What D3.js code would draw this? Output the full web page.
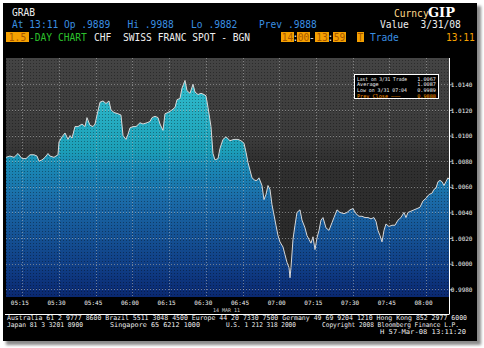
<!DOCTYPE html>
<html><head><meta charset="utf-8">
<script src="https://cdn.jsdelivr.net/npm/d3@7"></script>
<style>html,body{margin:0;padding:0;background:#fff;}svg{display:block}</style>
</head><body>
<script>
// ---- data ----
const times = ["05:08:20","05:09:58","05:11:37","05:13:15","05:14:04","05:14:53","05:16:31","05:18:09","05:19:47","05:21:00",
"05:21:50","05:23:03","05:24:17","05:25:30","05:26:19","05:27:57","05:29:35","05:30:00","05:31:14","05:32:27",
"05:33:41","05:34:30","05:35:19","05:36:32","05:37:46","05:39:24","05:40:38","05:41:26","05:42:40","05:43:54",
"05:44:43","05:45:32","05:46:45","05:47:59","05:49:13","05:50:26","05:51:15","05:52:29","05:54:07","05:55:20",
"05:56:10","05:57:23","05:58:12","05:59:01","06:00:14","06:01:28","06:03:06","06:04:20","06:05:58","06:07:11",
"06:08:01","06:09:14","06:10:28","06:11:17","06:12:30","06:13:19","06:14:33","06:16:11","06:17:25","06:18:14",
"06:19:27","06:20:16","06:21:30","06:22:19","06:23:32","06:24:46","06:25:35","06:26:49","06:28:02","06:29:16",
"06:30:05","06:30:54","06:32:07","06:32:56","06:33:45","06:34:59","06:35:48","06:37:02","06:38:15","06:39:53",
"06:41:31","06:43:09","06:44:23","06:45:37","06:46:26","06:47:14","06:48:04","06:48:53","06:50:06","06:50:55",
"06:51:44","06:52:58","06:53:47","06:54:36","06:55:25","06:56:14","06:57:03","06:57:52","06:58:41","06:59:30",
"07:00:19","07:01:33","07:02:22","07:03:11","07:04:00","07:04:25","07:04:49","07:05:38","07:06:27","07:07:16",
"07:08:30","07:09:19","07:10:32","07:11:21","07:12:10","07:12:59","07:13:49","07:14:38","07:15:26","07:16:16",
"07:17:05","07:17:54","07:19:07","07:20:21","07:21:34","07:22:23","07:23:37","07:24:50","07:26:29","07:27:43",
"07:28:56","07:30:10","07:31:23","07:32:37","07:33:50","07:35:04","07:36:17","07:37:31","07:38:44","07:39:34",
"07:40:22","07:41:11","07:42:01","07:42:50","07:43:38","07:44:52","07:46:06","07:47:19","07:48:33","07:49:46",
"07:51:00","07:51:49","07:52:38","07:53:52","07:55:05","07:56:19","07:57:32","07:58:46","08:00:00","08:01:13",
"08:02:26","08:03:16","08:04:05","08:04:54","08:05:43","08:06:32","08:07:21","08:08:10","08:08:59","08:09:23"];

const prices = [1.0083,1.0084,1.0083,1.0086,1.0084,1.0082,1.0082,1.0085,1.0085,1.0084,
1.0080,1.0081,1.0083,1.0086,1.0084,1.0083,1.0085,1.0095,1.0099,1.0102,
1.0097,1.0100,1.0098,1.0107,1.0107,1.0109,1.0107,1.0114,1.0108,1.0107,
1.0109,1.0116,1.0126,1.0127,1.0125,1.0127,1.0120,1.0118,1.0117,1.0116,
1.0100,1.0097,1.0101,1.0106,1.0107,1.0107,1.0110,1.0109,1.0110,1.0111,
1.0114,1.0115,1.0114,1.0109,1.0104,1.0117,1.0118,1.0120,1.0122,1.0128,
1.0129,1.0137,1.0143,1.0135,1.0133,1.0140,1.0134,1.0132,1.0133,1.0132,
1.0131,1.0122,1.0107,1.0086,1.0081,1.0082,1.0090,1.0097,1.0099,1.0096,
1.0097,1.0097,1.0096,1.0094,1.0087,1.0079,1.0073,1.0067,1.0065,1.0065,
1.0067,1.0061,1.0050,1.0054,1.0061,1.0058,1.0046,1.0038,1.0030,1.0022,
1.0017,1.0013,1.0007,1.0001,0.9997,0.9989,0.9997,1.0019,1.0030,1.0040,
1.0042,1.0034,1.0028,1.0022,1.0019,1.0016,1.0021,1.0011,1.0020,1.0026,
1.0034,1.0036,1.0028,1.0026,1.0032,1.0036,1.0042,1.0040,1.0039,1.0040,
1.0042,1.0043,1.0039,1.0037,1.0037,1.0036,1.0036,1.0035,1.0036,1.0033,
1.0026,1.0022,1.0017,1.0026,1.0031,1.0029,1.0030,1.0030,1.0034,1.0036,
1.0040,1.0036,1.0040,1.0041,1.0042,1.0043,1.0044,1.0049,1.0051,1.0054,
1.0055,1.0058,1.0059,1.0064,1.0065,1.0064,1.0061,1.0064,1.0067,1.0066];

const yTickValues = [0.9980,1.0000,1.0020,1.0040,1.0060,1.0080,1.0100,1.0120,1.0140];
const yTickLabels = ["0.9980","1.0000","1.0020","1.0040","1.0060","1.0080","1.0100","1.0120","1.0140"];
const xTickTimes  = ["05:15","05:30","05:45","06:00","06:15","06:30","06:45","07:00","07:15","07:30","07:45","08:00"];
const xDomain = ["05:08:20","08:09:24"];

const legendRows = [
  {label:"Last on 3/31 Trade", value:"1.0067", color:"#f0f0f0"},
  {label:"Average",            value:"1.0087", color:"#f0f0f0"},
  {label:"Low on 3/31 07:04",  value:"0.9989", color:"#f0f0f0"},
  {label:"Prev Close \u2014\u2014\u2014", value:"0.9888", color:"#ff9900"}
];

// ---- drawing ----
const W = 484, H = 348;
const svg = d3.select("body").append("svg").attr("width", W).attr("height", H);
const defs = svg.append("defs");

const blur = defs.append("filter").attr("id","sh").attr("x","-10%").attr("y","-10%").attr("width","120%").attr("height","120%");
blur.append("feGaussianBlur").attr("stdDeviation", 1.5);

// frame + shadow
svg.append("rect").attr("x",6).attr("y",6).attr("width",475).attr("height",339).attr("fill","#8a8a8a").attr("filter","url(#sh)");
svg.append("rect").attr("x",3).attr("y",3).attr("width",474).attr("height",338).attr("fill","#000");

const plot = {l:6, r:449, t:58, b:297};
const parse = d3.timeParse("%H:%M:%S");
const parseHM = d3.timeParse("%H:%M");
const x = d3.scaleTime().domain(xDomain.map(parse)).range([plot.l, plot.r]);
const y = d3.scaleLinear().domain([0.9980, 1.0140]).range([289.3, 84.3]);

const data = times.map((t,i)=>({t:parse(t), v:prices[i]}));

// background gradient
const bg = defs.append("linearGradient").attr("id","bg").attr("gradientUnits","userSpaceOnUse")
  .attr("x1",0).attr("y1",plot.t).attr("x2",0).attr("y2",plot.b);
[[0,"#444444"],[0.35,"#3a3a3a"],[0.42,"#303030"],[1,"#262626"]].forEach(s=>bg.append("stop").attr("offset",s[0]).attr("stop-color",s[1]));

// fill gradient
const fg = defs.append("linearGradient").attr("id","fg").attr("gradientUnits","userSpaceOnUse")
  .attr("x1",0).attr("y1",plot.t).attr("x2",0).attr("y2",plot.b);
[[70,"#34c2d0"],[150,"#1c9fb8"],[165,"#1a8ab5"],[200,"#1b6ba8"],[240,"#144f92"],[270,"#0f3c84"],[297,"#0a2870"]]
  .forEach(s=>fg.append("stop").attr("offset",(s[0]-plot.t)/(plot.b-plot.t)).attr("stop-color",s[1]));

// dot pattern overlay
const pat = defs.append("pattern").attr("id","dots").attr("patternUnits","userSpaceOnUse").attr("width",3).attr("height",3);
pat.append("rect").attr("x",0).attr("y",0).attr("width",1).attr("height",1).attr("fill","rgba(0,0,0,0.35)");

defs.append("clipPath").attr("id","clip").append("rect")
  .attr("x",plot.l).attr("y",plot.t).attr("width",plot.r-plot.l).attr("height",plot.b-plot.t);

svg.append("rect").attr("x",plot.l).attr("y",plot.t).attr("width",plot.r-plot.l).attr("height",plot.b-plot.t).attr("fill","url(#bg)");

const g = svg.append("g").attr("clip-path","url(#clip)");
const area = d3.area().x(d=>x(d.t)).y0(plot.b).y1(d=>y(d.v));
const line = d3.line().x(d=>x(d.t)).y(d=>y(d.v));
g.append("path").datum(data).attr("d",area).attr("fill","url(#fg)");
g.append("rect").attr("x",plot.l).attr("y",plot.t).attr("width",plot.r-plot.l).attr("height",plot.b-plot.t).attr("fill","url(#dots)");
g.append("path").datum(data).attr("d",line).attr("fill","none").attr("stroke","#d8d8d8").attr("stroke-width",1);

// grid
const xTicks = xTickTimes.map(parseHM);
g.selectAll(".vg").data(xTicks).join("line")
  .attr("x1",d=>Math.round(x(d))+0.5).attr("x2",d=>Math.round(x(d))+0.5)
  .attr("y1",plot.t).attr("y2",plot.b)
  .attr("stroke","rgba(190,190,190,0.55)").attr("stroke-dasharray","1,2");
g.selectAll(".hg").data(yTickValues).join("line")
  .attr("x1",plot.l).attr("x2",plot.r)
  .attr("y1",d=>Math.round(y(d))+0.5).attr("y2",d=>Math.round(y(d))+0.5)
  .attr("stroke","rgba(190,190,190,0.55)").attr("stroke-dasharray","1,2");

// right axis
const yAxis = d3.axisRight(y).tickValues(yTickValues).tickSize(3)
  .tickFormat((d,i)=>yTickLabels[i]);
const ya = svg.append("g").attr("transform",`translate(${plot.r+0.5},0)`).call(yAxis);
ya.select(".domain").remove();
ya.selectAll(".tick line").attr("stroke","#aaaaaa");
ya.selectAll(".tick text").attr("x",23).attr("text-anchor","end").attr("fill","#f0f0f0")
  .style("font-family","DejaVu Sans Mono").style("font-size","6px").attr("dy","0.35em");

svg.append("line").attr("x1",plot.r+0.5).attr("x2",plot.r+0.5).attr("y1",plot.t).attr("y2",314)
  .attr("stroke","#fff").attr("stroke-width",1);
svg.append("line").attr("x1",5).attr("x2",plot.r+0.5).attr("y1",314.5).attr("y2",314.5)
  .attr("stroke","#fff").attr("stroke-width",1);

// bottom axis
const xAxis = d3.axisBottom(x).tickValues(xTicks).tickSize(0).tickFormat(d3.timeFormat("%H:%M"));
const xa = svg.append("g").attr("transform",`translate(0,${plot.b})`).call(xAxis);
xa.select(".domain").remove();
xa.selectAll(".tick text").attr("fill","#f0f0f0").attr("y",4).attr("dx",-3)
  .style("font-family","DejaVu Sans Mono").style("font-size","6px");

// header text helper
function txt(xp, yp, s, color, size, extra){
  const t = svg.append("text").attr("x",xp).attr("y",yp).text(s).attr("fill",color)
    .style("font-family","DejaVu Sans Mono").style("font-size",(size||9.6)+"px").attr("xml:space","preserve");
  if(extra) extra(t);
  return t;
}
function fit(len){ return t=>t.attr("textLength",len).attr("lengthAdjust","spacingAndGlyphs"); }
const BLUE="#3a8fe0", WHITE="#eeeeee", ORANGE="#f5a000", GREEN="#2cc02c";
txt(12,16,"GRAB",WHITE);
txt(12,28,"At 13:11 Op .9889   Hi .9988   Lo .9882",BLUE);
txt(259,28,"Prev .9888",BLUE);
txt(380,28,"Value  3/31/08",WHITE);
txt(394,17,"Curncy","#ffd98a");
txt(428,17,"GIP","#ffffff",13,t=>t.style("font-family","DejaVu Serif").style("font-weight","bold"));

// row 3
function box(x0,w,label){
  svg.append("rect").attr("x",x0).attr("y",32).attr("width",w).attr("height",10).attr("fill",ORANGE);
  txt(x0+ (w-label.length*5.78)/2,40.5,label,"#a85800");
}
box(6,23,"1.5");
txt(29,40.5,"-DAY CHART",GREEN);
txt(94,40.5,"CHF",WHITE);
txt(123,40.5,"SWISS FRANC SPOT - BGN",WHITE);
box(281,13,"14"); txt(292.5,40.5,":",WHITE);
box(297,13,"00"); txt(309,40.5,"-",WHITE);
box(315,14,"13"); txt(327.5,40.5,":",WHITE);
box(333,13,"59");
box(357,7,"T");
txt(370,40.5,"Trade",BLUE);
txt(446,40.5,"13:11",ORANGE);

// legend box
svg.append("rect").attr("x",354.5).attr("y",74.5).attr("width",84).attr("height",24).attr("fill","#000").attr("stroke","#fff");
legendRows.forEach((r,i)=>{
  txt(357,80.5+i*5.8,r.label,r.color,5.2,fit(Math.min(50, r.label.length*3.1)));
  txt(436,80.5+i*5.8,r.value,r.color,5.2,t=>t.attr("text-anchor","end"));
});

// small date under axis
txt(213,312,"14 MAR 11","#cccccc",5);

// footer
const F="#eeeeee";
txt(7,320,"Australia 61 2 9777 8600 Brazil 5511 3048 4500 Europe 44 20 7330 7500 Germany 49 69 9204 1210 Hong Kong 852 2977 6000",F,6.6,fit(460));
txt(7,327,"Japan 81 3 3201 8900",F,6.6,fit(76));
txt(110,327,"Singapore 65 6212 1000",F,6.6,fit(90));
txt(226,327,"U.S. 1 212 318 2000",F,6.6,fit(70));
txt(322,327,"Copyright 2008 Bloomberg Finance L.P.",F,6.6,fit(137));
txt(380,334,"H 57-Mar-08 13:11:20",F,6.6,fit(86));
</script>
</body></html>
